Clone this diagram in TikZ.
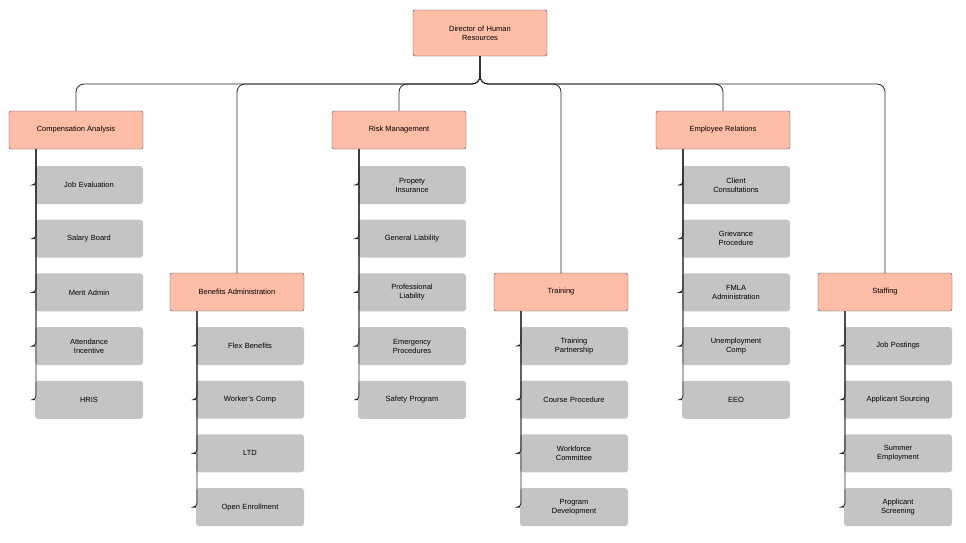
\documentclass[tikz,border=0pt]{standalone}
\usepackage{fontspec}
\setmainfont{Liberation Sans}
\begin{document}
\begin{tikzpicture}[x=1pt,y=-1pt,
  head/.style={draw=black!70,fill=orange!50!red!35!white,rounded corners=2pt,minimum width=134pt,minimum height=38pt,align=center,font=\fontsize{7.5}{9}\selectfont},
  leaf/.style={fill=black!23,rounded corners=3pt,minimum width=108pt,minimum height=38pt,align=center,font=\fontsize{7.5}{9}\selectfont,text width=90pt},
  wire/.style={draw=black!85,thick,rounded corners=8pt}]
\useasboundingbox (0,0) rectangle (966,542);
\node[head,minimum height=46pt,text width=110pt](dir) at (480,33){Director of Human\\Resources};
\node[head](comp) at (76,130){Compensation Analysis};
\node[head](ben) at (237,292){Benefits Administration};
\node[head](risk) at (399,130){Risk Management};
\node[head](train) at (561,292){Training};
\node[head](emp) at (723,130){Employee Relations};
\node[head](staff) at (885,292){Staffing};
% bus
\coordinate (bus) at (480,84);
\foreach \h in {comp,ben,risk,train,emp,staff}
  \draw[wire] (dir.south) -- (bus) -| (\h.north);
% children
\foreach \h/\x/\y/\lst in {
  comp/89/185/{Job Evaluation,Salary Board,Merit Admin,Attendance\\Incentive,HRIS},
  ben/250/346/{Flex Benefits,Worker's Comp,LTD,Open Enrollment},
  risk/412/185/{Propety\\Insurance,General Liability,Professional\\Liability,Emergency\\Procedures,Safety Program},
  train/574/346/{Training\\Partnership,Course Procedure,Workforce\\Committee,Program\\Development},
  emp/736/185/{Client\\Consultations,Grievance\\Procedure,FMLA\\Administration,Unemployment\\Comp,EEO},
  staff/898/346/{Job Postings,Applicant Sourcing,Summer\\Employment,Applicant\\Screening}}{
  \foreach \t [count=\i] in \lst {
    \node[leaf](\h\i) at (\x,\y+53.7*\i-53.7){\t};
    \draw[wire,rounded corners=4pt] ([xshift=-40pt]\h.south) |- (\h\i.west);
  }
}
\end{tikzpicture}
\end{document}
